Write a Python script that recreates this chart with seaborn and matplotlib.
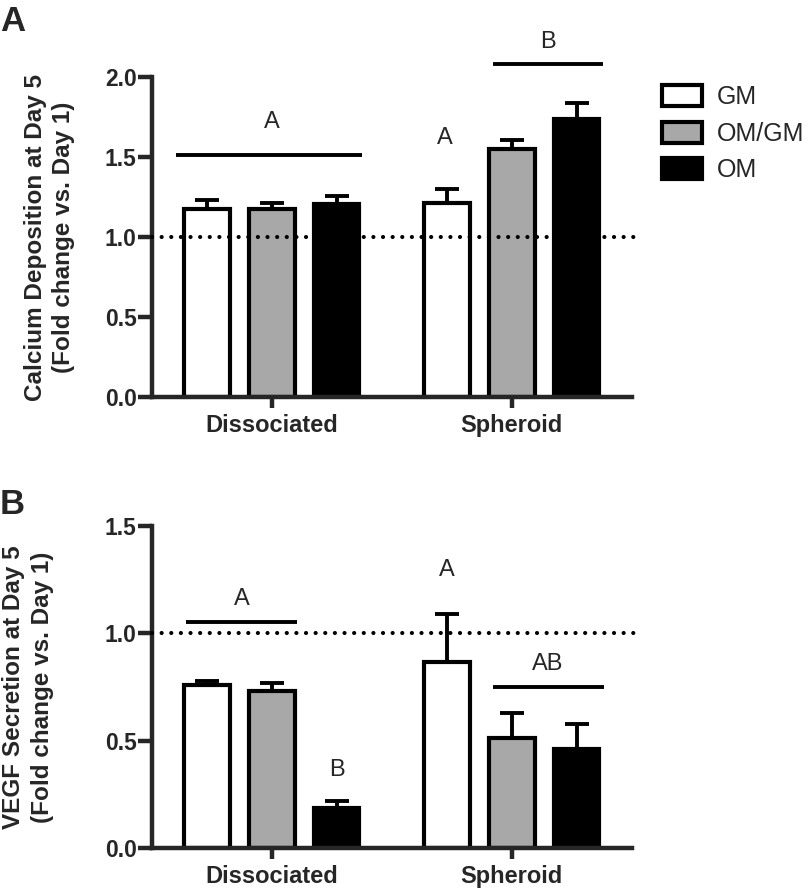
import matplotlib
matplotlib.use("Agg")
import matplotlib.pyplot as plt
from matplotlib.container import BarContainer
import seaborn as sns
import pandas as pd

# ---------------- data ----------------
conditions = ["Dissociated", "Spheroid"]
media = ["GM", "OM/GM", "OM"]

calcium_dissociated = [1.172, 1.172, 1.205]
calcium_spheroid = [1.213, 1.553, 1.74]
calcium_err_dissociated = [0.06, 0.04, 0.05]
calcium_err_spheroid = [0.09, 0.055, 0.095]

vegf_dissociated = [0.762, 0.73, 0.186]
vegf_spheroid = [0.866, 0.512, 0.462]
vegf_err_dissociated = [0.015, 0.04, 0.034]
vegf_err_spheroid = [0.225, 0.118, 0.115]

calcium_yticks = [0.0, 0.5, 1.0, 1.5, 2.0]
vegf_yticks = [0.0, 0.5, 1.0, 1.5]

# significance annotations: (text, x, y) and lines (x0, x1, y)
calcium_letters = [("A", 0.0, 1.72), ("A", 0.72, 1.62), ("B", 1.15, 2.22)]
calcium_lines = [(-0.40, 0.375, 1.515), (0.92, 1.38, 2.08)]
vegf_letters = [("A", -0.125, 1.16), ("B", 0.27, 0.365), ("A", 0.73, 1.295), ("AB", 1.15, 0.858)]
vegf_lines = [(-0.36, 0.105, 1.053), (0.92, 1.385, 0.749)]

colors = ["#ffffff", "#a8a8a8", "#000000"]

# ---------------- style ----------------
sns.set_style("ticks")
plt.rcParams["font.family"] = ["Liberation Sans", "DejaVu Sans"]
plt.rcParams["axes.linewidth"] = 3.2

fig = plt.figure(figsize=(8.08, 8.89), dpi=100)
axA = fig.add_axes([0.188, 0.5534, 0.594, 0.36])
axB = fig.add_axes([0.188, 0.0458, 0.594, 0.3625])


def make_df(d_vals, s_vals):
    rows = []
    for cond, vals in zip(conditions, [d_vals, s_vals]):
        for m, v in zip(media, vals):
            rows.append({"Condition": cond, "Medium": m, "Value": v})
    return pd.DataFrame(rows)


def draw_panel(ax, df, errs_d, errs_s, yticks, ylim, ylabel, letters, lines, legend, label_x):
    sns.barplot(data=df, x="Condition", y="Value", hue="Medium",
                order=conditions, hue_order=media, palette=colors,
                edgecolor="black", linewidth=3.0, errorbar=None,
                width=0.81, gap=0.3, legend=legend, ax=ax, zorder=2)
    errs = {0: errs_d, 1: errs_s}
    bar_conts = [c for c in ax.containers if isinstance(c, BarContainer)]
    for hi, cont in enumerate(bar_conts):
        for ci, bar in enumerate(cont.patches):
            x = bar.get_x() + bar.get_width() / 2
            y = bar.get_height()
            e = errs[ci][hi]
            ax.errorbar([x], [y], yerr=[[0], [e]], fmt="none", ecolor="black",
                        elinewidth=2.8, capsize=8.3, capthick=2.8, zorder=1)
    ax.axhline(1.0, xmin=0, xmax=1.0125, color="black", lw=3.0,
               linestyle=(0, (0.01, 2.3)), dash_capstyle="round",
               clip_on=False, zorder=3)
    for (t, x, y) in letters:
        ax.text(x, y, t, ha="center", va="center", fontsize=17, clip_on=False)
    for (x0, x1, y) in lines:
        ax.plot([x0, x1], [y, y], color="black", lw=2.8, clip_on=False,
                solid_capstyle="butt")
    ax.set_xlim(-0.5, 1.5)
    ax.set_ylim(*ylim)
    ax.set_yticks(yticks)
    ax.set_yticklabels([f"{v:.1f}" for v in yticks], fontsize=16.5, fontweight="bold")
    ax.set_xticks([0, 1])
    ax.set_xticklabels(conditions, fontsize=17, fontweight="bold")
    ax.tick_params(axis="y", length=10, width=3.2, pad=1)
    ax.tick_params(axis="x", length=8, width=3.2, pad=4)
    ax.set_xlabel("")
    ax.set_ylabel(ylabel, fontsize=17.5, fontweight="bold", linespacing=1.3)
    ax.yaxis.set_label_coords(label_x, 0.5)
    sns.despine(ax=ax)


dfA = make_df(calcium_dissociated, calcium_spheroid)
dfB = make_df(vegf_dissociated, vegf_spheroid)

draw_panel(axA, dfA, calcium_err_dissociated, calcium_err_spheroid, calcium_yticks,
           (0, 2.0), "Calcium Deposition at Day 5\n(Fold change vs. Day 1)",
           calcium_letters, calcium_lines, True, -0.16)
draw_panel(axB, dfB, vegf_err_dissociated, vegf_err_spheroid, vegf_yticks,
           (0, 1.5), "VEGF Secretion at Day 5\n(Fold change vs. Day 1)",
           vegf_letters, vegf_lines, False, -0.205)

sns.move_legend(axA, "upper left", bbox_to_anchor=(662 / 808, 1 - 85 / 889),
                bbox_transform=fig.transFigure, frameon=False, title=None,
                fontsize=18, handlelength=1.6, handleheight=0.92,
                handletextpad=0.6, labelspacing=0.5, borderpad=0, borderaxespad=0)

fig.text(0.0, 1 - 5 / 889, "A", fontsize=25, fontweight="bold", ha="left", va="top")
fig.text(0.0, 1 - 488 / 889, "B", fontsize=25, fontweight="bold", ha="left", va="top")

fig.savefig("out.png", dpi=100)
